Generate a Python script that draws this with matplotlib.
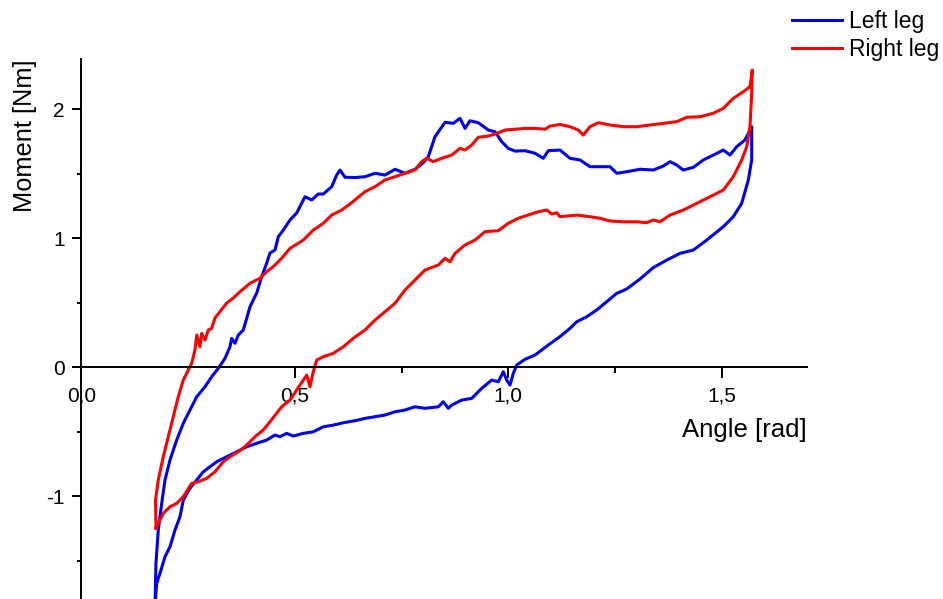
import matplotlib
matplotlib.use("Agg")
import matplotlib.pyplot as plt
import numpy as np
from matplotlib.ticker import FixedLocator, MultipleLocator

plt.rcParams["font.family"] = ["Liberation Sans", "DejaVu Sans"]

# Left leg: loading branch (angle increasing) then unloading branch
left_up_angle = [0.1726, 0.1749, 0.1803, 0.1883, 0.1960, 0.2077, 0.2234, 0.2389, 0.2546, 0.2703,
                 0.2897, 0.3054, 0.3208, 0.3365, 0.3482, 0.3522, 0.3600, 0.3677, 0.3794, 0.3951,
                 0.4108, 0.4225, 0.4342, 0.4419, 0.4536, 0.4614, 0.4731, 0.4888, 0.5044, 0.5239,
                 0.5396, 0.5550, 0.5667, 0.5864, 0.5981, 0.6059, 0.6176, 0.6410, 0.6644, 0.6878,
                 0.7112, 0.7347, 0.7581, 0.7815, 0.8009, 0.8126, 0.8283, 0.8518, 0.8712, 0.8869,
                 0.8986, 0.9103, 0.9297, 0.9532, 0.9689, 0.9845, 1.0000, 1.0157, 1.0391, 1.0625,
                 1.0820, 1.0937, 1.1211, 1.1445, 1.1679, 1.1913, 1.2148, 1.2382, 1.2539, 1.2773,
                 1.3084, 1.3396, 1.3630, 1.3787, 1.3944, 1.4098, 1.4333, 1.4567, 1.4801, 1.5035,
                 1.5192, 1.5349, 1.5543, 1.5700]
left_up_moment = [-1.845, -1.519, -1.264, -1.057, -0.876, -0.721, -0.566, -0.436, -0.333, -0.230,
                  -0.153, -0.075, -0.010, 0.067, 0.157, 0.222, 0.184, 0.248, 0.287, 0.467,
                  0.574, 0.700, 0.806, 0.884, 0.907, 1.010, 1.062, 1.140, 1.194, 1.320,
                  1.295, 1.341, 1.341, 1.398, 1.488, 1.527, 1.471, 1.469, 1.475, 1.502,
                  1.488, 1.533, 1.502, 1.533, 1.584, 1.630, 1.785, 1.897, 1.889, 1.928,
                  1.850, 1.909, 1.894, 1.837, 1.824, 1.747, 1.695, 1.674, 1.677, 1.657,
                  1.618, 1.677, 1.682, 1.618, 1.605, 1.553, 1.553, 1.553, 1.502, 1.514,
                  1.533, 1.527, 1.558, 1.592, 1.566, 1.527, 1.548, 1.605, 1.643, 1.682,
                  1.643, 1.708, 1.760, 1.863]
left_down_angle = [1.5700, 1.5621, 1.5466, 1.5269, 1.5035, 1.4646, 1.4333, 1.4021, 1.3710, 1.3396,
                   1.3084, 1.2773, 1.2539, 1.2304, 1.2070, 1.1836, 1.1602, 1.1445, 1.1211, 1.0937,
                   1.0625, 1.0391, 1.0197, 1.0117, 1.0040, 0.9963, 0.9883, 0.9766, 0.9611, 0.9377,
                   0.9143, 0.8909, 0.8674, 0.8595, 0.8478, 0.8361, 0.8049, 0.7815, 0.7581, 0.7347,
                   0.7112, 0.6878, 0.6644, 0.6410, 0.6136, 0.5902, 0.5667, 0.5433, 0.5199, 0.4965,
                   0.4810, 0.4653, 0.4536, 0.4342, 0.4108, 0.3874, 0.3639, 0.3405, 0.3171, 0.3014,
                   0.2857, 0.2703, 0.2546, 0.2389, 0.2311, 0.2194, 0.2077, 0.1960, 0.1843, 0.1766,
                   0.1726]
left_down_moment = [1.605, 1.450, 1.269, 1.165, 1.088, 0.984, 0.907, 0.881, 0.829, 0.771,
                    0.682, 0.605, 0.571, 0.506, 0.442, 0.390, 0.351, 0.300, 0.236, 0.171,
                    0.093, 0.060, 0.016, -0.049, -0.140, -0.101, -0.036, -0.114, -0.101, -0.165,
                    -0.243, -0.256, -0.295, -0.320, -0.269, -0.308, -0.320, -0.308, -0.333, -0.347,
                    -0.372, -0.385, -0.398, -0.416, -0.432, -0.450, -0.463, -0.502, -0.514, -0.535,
                    -0.514, -0.540, -0.527, -0.566, -0.591, -0.618, -0.657, -0.695, -0.734, -0.773,
                    -0.812, -0.876, -0.940, -1.031, -1.160, -1.264, -1.393, -1.471, -1.599, -1.677,
                    -1.845]

# Right leg
right_up_angle = [0.1749, 0.1738, 0.1803, 0.1920, 0.2037, 0.2155, 0.2272, 0.2389, 0.2506, 0.2585,
                  0.2663, 0.2703, 0.2780, 0.2820, 0.2897, 0.2974, 0.3054, 0.3131, 0.3248, 0.3405,
                  0.3560, 0.3717, 0.3951, 0.4185, 0.4342, 0.4496, 0.4693, 0.4888, 0.5199, 0.5433,
                  0.5667, 0.5864, 0.6098, 0.6293, 0.6644, 0.6878, 0.7112, 0.7347, 0.7581, 0.7815,
                  0.7972, 0.8089, 0.8244, 0.8440, 0.8674, 0.8869, 0.8986, 0.9143, 0.9297, 0.9532,
                  0.9689, 0.9923, 1.0157, 1.0391, 1.0625, 1.0859, 1.0977, 1.1211, 1.1445, 1.1639,
                  1.1756, 1.1913, 1.2108, 1.2382, 1.2693, 1.3007, 1.3319, 1.3630, 1.3944, 1.4178,
                  1.4489, 1.4801, 1.5035, 1.5269, 1.5504, 1.5660, 1.5714]
right_up_moment = [-1.248, -1.031, -0.876, -0.695, -0.540, -0.385, -0.230, -0.101, -0.023, 0.029,
                   0.132, 0.248, 0.157, 0.261, 0.209, 0.287, 0.300, 0.380, 0.429, 0.496,
                   0.535, 0.584, 0.649, 0.688, 0.739, 0.778, 0.843, 0.920, 0.984, 1.062,
                   1.114, 1.178, 1.217, 1.264, 1.359, 1.398, 1.450, 1.475, 1.502, 1.527,
                   1.592, 1.618, 1.592, 1.618, 1.643, 1.695, 1.682, 1.721, 1.781, 1.791,
                   1.806, 1.837, 1.843, 1.850, 1.850, 1.843, 1.868, 1.880, 1.863, 1.837,
                   1.798, 1.863, 1.894, 1.876, 1.863, 1.863, 1.876, 1.889, 1.902, 1.936,
                   1.940, 1.967, 2.005, 2.083, 2.134, 2.173, 2.302]
right_down_angle = [1.5700, 1.5660, 1.5583, 1.5466, 1.5269, 1.5035, 1.4724, 1.4412, 1.4098, 1.3787,
                    1.3553, 1.3396, 1.3241, 1.3007, 1.2693, 1.2382, 1.2148, 1.1913, 1.1602, 1.1211,
                    1.1133, 1.1016, 1.0899, 1.0703, 1.0468, 1.0234, 1.0000, 0.9766, 0.9455, 0.9220,
                    0.8986, 0.8752, 0.8635, 0.8518, 0.8361, 0.8049, 0.7815, 0.7581, 0.7347, 0.7112,
                    0.6878, 0.6644, 0.6410, 0.6136, 0.5902, 0.5667, 0.5513, 0.5433, 0.5356, 0.5279,
                    0.5199, 0.5044, 0.4888, 0.4693, 0.4419, 0.4262, 0.4068, 0.3874, 0.3677, 0.3482,
                    0.3326, 0.3131, 0.2937, 0.2740, 0.2585, 0.2389, 0.2234, 0.2077, 0.1920, 0.1749]
right_down_moment = [2.122, 1.863, 1.708, 1.605, 1.475, 1.372, 1.320, 1.269, 1.217, 1.178,
                     1.126, 1.140, 1.119, 1.126, 1.126, 1.132, 1.153, 1.165, 1.178, 1.165,
                     1.196, 1.186, 1.217, 1.204, 1.178, 1.153, 1.114, 1.057, 1.049, 0.984,
                     0.946, 0.881, 0.816, 0.843, 0.791, 0.752, 0.674, 0.597, 0.494, 0.429,
                     0.364, 0.287, 0.233, 0.157, 0.106, 0.080, 0.054, -0.036, -0.153, -0.062,
                     -0.101, -0.178, -0.256, -0.308, -0.424, -0.488, -0.540, -0.605, -0.657, -0.695,
                     -0.734, -0.812, -0.863, -0.889, -0.902, -1.005, -1.057, -1.083, -1.134, -1.248]

x_major = [0.0, 0.5, 1.0, 1.5]
x_tick_labels = ["0,0", "0,5", "1,0", "1,5"]
y_major = [-1, 0, 1, 2]
y_tick_labels = ["-1", "0", "1", "2"]

fig = plt.figure(figsize=(9.43, 5.99), dpi=100)
ax = fig.add_axes([0.0862, 0.0, 0.7698, 0.902])

ax.plot(np.concatenate([left_up_angle, left_down_angle]),
        np.concatenate([left_up_moment, left_down_moment]),
        color="#0000f0", linewidth=2.2, label="Left leg")
ax.plot(np.concatenate([right_up_angle, right_down_angle]),
        np.concatenate([right_up_moment, right_down_moment]),
        color="#ff0000", linewidth=2.2, label="Right leg")

ax.set_xlim(0, 1.7)
ax.set_ylim(-1.798, 2.39)

# axes cross at the origin
ax.spines["bottom"].set_position(("data", 0))
ax.spines["top"].set_visible(False)
ax.spines["right"].set_visible(False)
for s in ("left", "bottom"):
    ax.spines[s].set_linewidth(1.4)

ax.xaxis.set_major_locator(FixedLocator(x_major))
ax.set_xticklabels(x_tick_labels)
ax.xaxis.set_minor_locator(MultipleLocator(0.25))
ax.yaxis.set_major_locator(FixedLocator(y_major))
ax.set_yticklabels(y_tick_labels)
ax.yaxis.set_minor_locator(MultipleLocator(0.5))

ax.tick_params(axis="x", which="major", direction="out", length=8, width=1.4, pad=6, labelsize=15)
ax.tick_params(axis="x", which="minor", direction="out", length=4.5, width=1.4)
ax.tick_params(axis="y", which="major", direction="out", length=6.5, width=1.4, pad=5.5, labelsize=15)
ax.tick_params(axis="y", which="minor", direction="out", length=3.2, width=1.4)

ax.set_xlabel("Angle [rad]", fontsize=18.5, ha="right", va="center")
ax.xaxis.set_label_coords(1.0, 0.3128)
ax.set_ylabel("Moment [Nm]", fontsize=18.3, va="center")
ax.yaxis.set_label_coords(-0.0776, 0.857)

ax.legend(loc="upper left", bbox_to_anchor=(792 / 943, 589 / 599), bbox_transform=fig.transFigure,
          frameon=False, fontsize=16.5, handlelength=2.2, handletextpad=0.3,
          labelspacing=0.23, borderpad=0, borderaxespad=0)

fig.savefig("out.png", dpi=100)
